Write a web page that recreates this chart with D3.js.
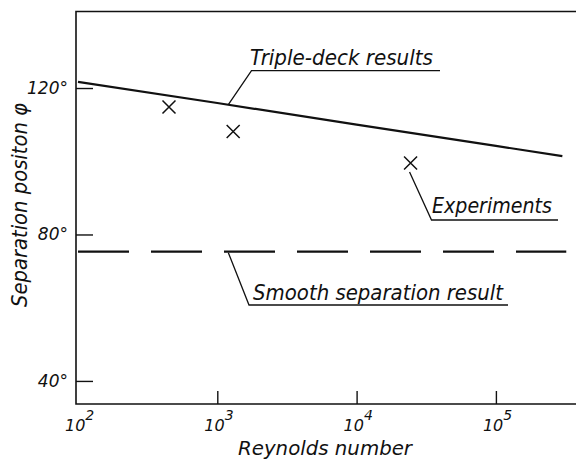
<!DOCTYPE html>
<html>
<head>
<meta charset="utf-8">
<script src="https://cdn.jsdelivr.net/npm/d3@7"></script>
<style>
  body { margin: 0; background: #fff; }
  text { font-family: "DejaVu Sans", sans-serif; font-style: italic; fill: #111; }
</style>
</head>
<body>
<div id="chart"></div>
<script>
// data
let triple_deck_re = [1e2, 1e3, 1e4, 1e5, 3e5];
let triple_deck_phi = [121.7, 115.9, 110.0, 104.2, 101.4];

let experiment_re = [450, 1300, 24400];
let experiment_phi = [114.8, 108.1, 99.5];

let smooth_re = [1e2, 3.2e5];
let smooth_phi = [75.3, 75.3];

let x_ticks = [1e2, 1e3, 1e4, 1e5];
let x_tick_exps = ["2", "3", "4", "5"];
let y_ticks = [40, 80, 120];
let y_tick_labels = ["40°", "80°", "120°"];

let chart_width = 576;
let chart_height = 466;
let ink = "#111";

let svg = d3.select("#chart")
    .append("svg")
    .attr("width", chart_width)
    .attr("height", chart_height);

let xScale = d3.scaleLog()
    .domain([1e2, Math.pow(10, 5.6)])
    .range([78, 78 + 3.6 * 139.3]);

let yScale = d3.scaleLinear()
    .domain([33.7, 140.9])
    .range([404, 11.5]);

let frame_left = 76;
let frame_bottom = yScale(33.7);
let frame_top = yScale(140.9);

// frame: left, bottom and top lines (no right side in the original)
svg.append("path")
    .attr("d", "M" + chart_width + "," + frame_top + "H" + frame_left + "V" + frame_bottom + "H" + chart_width)
    .attr("fill", "none")
    .attr("stroke", ink)
    .attr("stroke-width", 1.6);

// y ticks, pointing inwards
let y_axis = svg.append("g")
    .attr("transform", "translate(" + frame_left + ",0)")
    .call(d3.axisRight(yScale).tickValues(y_ticks).tickSize(17).tickFormat(""));
y_axis.select(".domain").remove();
y_axis.selectAll(".tick line").attr("stroke", ink).attr("stroke-width", 1.4);

svg.selectAll(".ylab")
    .data(y_ticks)
    .enter()
    .append("text")
    .attr("class", "ylab")
    .attr("x", 68)
    .attr("y", d => yScale(d) + 6)
    .attr("text-anchor", "end")
    .attr("font-size", "17px")
    .text((d, i) => y_tick_labels[i]);

// x ticks, pointing inwards
let x_axis = svg.append("g")
    .attr("transform", "translate(0," + frame_bottom + ")")
    .call(d3.axisTop(xScale).tickValues(x_ticks.slice(1)).tickSize(13).tickFormat(""));
x_axis.select(".domain").remove();
x_axis.selectAll(".tick line").attr("stroke", ink).attr("stroke-width", 1.4);

let xlab = svg.selectAll(".xlab")
    .data(x_ticks)
    .enter()
    .append("text")
    .attr("class", "xlab")
    .attr("x", d => xScale(d) - 13)
    .attr("y", 431)
    .attr("font-size", "16px");
xlab.append("tspan").text("10");
xlab.append("tspan")
    .attr("dy", -11)
    .attr("font-size", "14px")
    .text((d, i) => x_tick_exps[i]);

// axis titles
svg.append("text")
    .attr("x", 238)
    .attr("y", 455)
    .attr("font-size", "19px")
    .attr("textLength", 174)
    .attr("lengthAdjust", "spacingAndGlyphs")
    .text("Reynolds number");

svg.append("text")
    .attr("transform", "translate(27,307) rotate(-90)")
    .attr("font-size", "21px")
    .attr("textLength", 204)
    .attr("lengthAdjust", "spacingAndGlyphs")
    .text("Separation positon φ");

let line = d3.line()
    .x(d => xScale(d[0]))
    .y(d => yScale(d[1]));

// triple-deck results
svg.append("path")
    .datum(d3.zip(triple_deck_re, triple_deck_phi))
    .attr("fill", "none")
    .attr("stroke", ink)
    .attr("stroke-width", 2.2)
    .attr("d", line);

// smooth separation result
svg.append("path")
    .datum(d3.zip(smooth_re, smooth_phi))
    .attr("fill", "none")
    .attr("stroke", ink)
    .attr("stroke-width", 2.2)
    .attr("stroke-dasharray", "51,22")
    .attr("d", line);

// experiments
let cross = 6.5;
svg.selectAll(".cross")
    .data(d3.zip(experiment_re, experiment_phi))
    .enter()
    .append("path")
    .attr("class", "cross")
    .attr("fill", "none")
    .attr("stroke", ink)
    .attr("stroke-width", 1.5)
    .attr("d", d => {
        let cx = xScale(d[0]), cy = yScale(d[1]);
        return "M" + (cx - cross) + "," + (cy - cross) + "L" + (cx + cross) + "," + (cy + cross) +
               "M" + (cx - cross) + "," + (cy + cross) + "L" + (cx + cross) + "," + (cy - cross);
    });

// annotations with leader lines
let td_interp = d3.scaleLog().domain(triple_deck_re.slice(0, 2)).range(triple_deck_phi.slice(0, 2));
let annotations = [
    { text: "Triple-deck results", tx: 250, ty: 65, len: 183, ux0: 251.5, ux1: 440, uy: 70.7,
      px: xScale(1200), py: yScale(td_interp(1200)) },
    { text: "Experiments", tx: 432, ty: 213.3, len: 120, ux0: 431.5, ux1: 558, uy: 220,
      px: xScale(experiment_re[2]) - 1, py: yScale(experiment_phi[2]) + 9 },
    { text: "Smooth separation result", tx: 253, ty: 300, len: 250, ux0: 249, ux1: 508, uy: 305,
      px: xScale(1200), py: yScale(smooth_phi[0]) + 1 }
];

let ann = svg.selectAll(".ann")
    .data(annotations)
    .enter()
    .append("g")
    .attr("class", "ann");

ann.append("path")
    .attr("fill", "none")
    .attr("stroke", ink)
    .attr("stroke-width", 1.3)
    .attr("d", d => "M" + d.px + "," + d.py + "L" + d.ux0 + "," + d.uy + "H" + d.ux1);

ann.append("text")
    .attr("x", d => d.tx)
    .attr("y", d => d.ty)
    .attr("font-size", "21px")
    .attr("textLength", d => d.len)
    .attr("lengthAdjust", "spacingAndGlyphs")
    .text(d => d.text);
</script>
</body>
</html>
